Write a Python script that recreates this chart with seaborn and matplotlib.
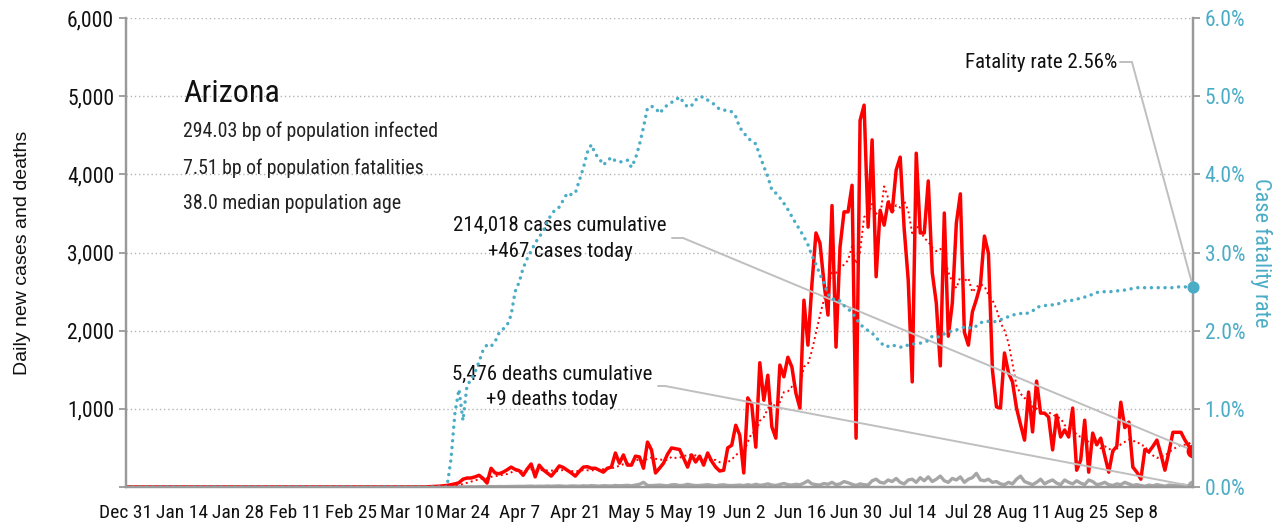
import numpy as np
import pandas as pd
import matplotlib
matplotlib.use("Agg")
import matplotlib.pyplot as plt
from matplotlib import font_manager as fm
from matplotlib.ticker import FuncFormatter
import matplotlib.dates as mdates
import seaborn as sns

# --- data (daily, Dec 31 2019 .. Sep 22 2020) ---
dates = pd.date_range("2019-12-31", "2020-09-22", freq="D")

cases = [0] * 75 + [
    3, 5, 8, 10, 15, 20, 30, 40,
    55, 100, 115, 115, 130, 150, 110, 50, 240, 180, 170, 190, 220, 255, 225, 210, 150,
    230, 295, 130, 280, 220, 180, 140, 200, 270, 250, 215, 180, 140, 200, 255, 260, 240, 240, 215, 190, 240, 255,
    435, 305, 410, 280, 280, 395, 385, 240, 575, 475, 180, 240, 305, 420, 500, 490, 480, 370, 255, 410,
    320, 395, 280, 435, 330, 255, 205, 215, 500, 535, 790, 665,
    180, 1140, 1050, 510, 1590, 1110, 1430, 770, 625, 1560, 1410, 1660, 1535, 1200, 1010, 2390, 1815,
    2600, 3250, 3120, 2610, 2200, 3600, 1790, 3070, 3520, 3520, 3860, 625,
    4690, 4885, 3325, 4440, 2690, 3540, 3350, 3645, 3520, 4055, 4220, 3300, 2650, 1345,
    4270, 3250, 3250, 3915, 2740, 2355, 1550, 3505, 1930, 2355, 3375, 3750, 1980, 1815, 2240, 2400, 2585,
    3210, 2990, 1495, 1025, 1010, 1715, 1460, 1345, 1010, 800, 600, 1215, 705, 1355, 945, 945, 895, 475,
    920, 640, 730, 640, 1010,
    215, 345, 855, 190, 690, 540, 625, 400, 190, 460, 520, 1085, 760, 830, 255, 190, 100, 480, 450, 520,
    600, 420, 215, 450, 700, 700, 700, 600, 520, 467,
]

deaths = [0] * 80 + [
    0, 1, 0, 2, 1, 2, 3, 2, 4, 5, 3, 6, 4, 7, 5, 6, 8, 7, 9, 8,
    10, 12, 8, 11, 9, 13, 10, 12, 15, 11, 9, 14, 13, 10, 16, 12, 18, 14, 11, 17, 15, 13,
    20, 16, 18, 22, 15, 25, 35, 60, 20, 18, 22, 25, 20, 15, 28, 30, 18, 22, 35, 25,
    18, 20, 24, 30, 22, 16, 25, 28, 20, 18, 22,
    25, 18, 30, 20, 35, 22, 28, 40, 25, 20, 32, 45, 30, 25, 35, 28, 50, 80, 40, 30,
    25, 45, 35, 60, 30, 40, 70, 55, 35, 20,
    40, 30, 25, 80, 100, 60, 50, 90, 70, 110, 60, 40, 90, 100, 60, 120, 80, 130, 70, 100,
    140, 80, 60, 110, 90, 130, 60, 100, 120, 175, 90,
    80, 100, 60, 70, 40, 30, 60, 40, 100, 140, 70, 50, 30, 60, 100, 40, 70, 90, 50, 30,
    90, 60, 40, 80, 50, 30, 90, 70, 30, 40, 60,
    30, 20, 40, 30, 60, 40, 20, 30, 20, 10, 25, 15, 30, 20, 10, 25, 20, 15, 30, 20, 15, 9,
]

fatality_pct = [0.0] * 80 + [
    0.00, 0.35, 0.95, 1.25, 0.85, 1.30, 1.37, 1.47, 1.60, 1.75, 1.82, 1.80, 1.86, 1.97, 2.02, 2.07, 2.20, 2.50, 2.62, 2.80,
    2.92, 3.02, 3.12, 3.20, 3.27, 3.40, 3.48, 3.55, 3.58, 3.67, 3.76, 3.74, 3.76, 3.92, 4.08, 4.28, 4.38, 4.26, 4.20, 4.12,
    4.17, 4.22, 4.17, 4.16, 4.16, 4.18, 4.09, 4.20, 4.38, 4.60,
    4.85, 4.87, 4.85, 4.78, 4.84, 4.89, 4.92, 4.95, 4.99, 4.92, 4.86, 4.88, 4.95, 4.99, 4.99, 4.95, 4.92, 4.88, 4.83, 4.82,
    4.82, 4.80, 4.74, 4.60, 4.53, 4.47, 4.42, 4.39, 4.24, 4.10,
    3.97, 3.80, 3.76, 3.70, 3.63, 3.55, 3.46, 3.37, 3.29, 3.20, 3.10, 2.96, 2.85, 2.72, 2.61, 2.47, 2.40, 2.41, 2.38, 2.32,
    2.28, 2.23, 2.16, 2.08, 2.04, 2.00, 1.97, 1.91, 1.86, 1.80,
    1.80, 1.82, 1.80, 1.79, 1.79, 1.82, 1.83, 1.83, 1.84, 1.86, 1.87, 1.93, 1.92, 1.92, 1.96, 1.98, 2.00, 2.01, 2.02, 2.05,
    2.04, 2.03, 2.06, 2.10, 2.12, 2.12, 2.11, 2.12, 2.14, 2.16,
    2.18, 2.20, 2.21, 2.22, 2.21, 2.23, 2.25, 2.30, 2.31, 2.32, 2.33, 2.33, 2.33, 2.36, 2.38, 2.38, 2.39, 2.40, 2.42, 2.43,
    2.44, 2.47, 2.49, 2.49, 2.50, 2.50, 2.50, 2.51, 2.51, 2.52,
    2.53, 2.54, 2.55, 2.55, 2.55, 2.55, 2.55, 2.55, 2.55, 2.55, 2.55, 2.55, 2.56, 2.56, 2.56, 2.56, 2.56,
]

state = "Arizona"
info_lines = ["294.03 bp of population infected",
              "7.51 bp of population fatalities",
              "38.0 median population age"]
cases_note = "214,018 cases cumulative\n+467 cases today"
deaths_note = "5,476 deaths cumulative\n+9 deaths today"
rate_note = "Fatality rate 2.56%"

df = pd.DataFrame({"date": dates, "cases": cases, "deaths": deaths,
                   "rate": np.array(fatality_pct) / 100.0})
df["cases_ma"] = df["cases"].rolling(7, min_periods=1).mean()

RED = "#ff0000"
TEAL = "#4bacc6"
GREY = "#a6a6a6"
SPINE = "#999999"
LEADER = "#bfbfbf"

sns.set_theme(style="white")

# pick the narrowest installed sans face (the original uses a condensed font)
fonts = {(f.name, f.stretch) for f in fm.fontManager.ttflist}
names = {n for n, _ in fonts}
condensed = [n for n, s in fonts if s in ("condensed", "semi-condensed", "extra-condensed", 600, 500)]
if "Roboto Condensed" in names:
    FAMILY, STRETCH, SCALE = "Roboto Condensed", "normal", 1.0
elif "Liberation Sans Narrow" in names:
    FAMILY, STRETCH, SCALE = "Liberation Sans Narrow", "normal", 1.0
elif "DejaVu Sans" in condensed:
    FAMILY, STRETCH, SCALE = "DejaVu Sans", "condensed", 0.92
else:
    FAMILY, STRETCH, SCALE = "Roboto", "normal", 0.88
plt.rcParams["font.family"] = [FAMILY, "DejaVu Sans"]
plt.rcParams["font.stretch"] = STRETCH
LABEL_FAMILY = ["Liberation Sans", "Arial", "DejaVu Sans"]

fig = plt.figure(figsize=(12.81, 5.26), dpi=100)
ax = fig.add_axes([0.0984, 0.0741, 0.8329, 0.8917])
ax2 = ax.twinx()

sns.lineplot(data=df, x="date", y="deaths", ax=ax, color=GREY, lw=2.4)
sns.lineplot(data=df, x="date", y="cases_ma", ax=ax, color=RED, lw=1.4, linestyle=":")
sns.lineplot(data=df, x="date", y="cases", ax=ax, color=RED, lw=2.5)
sns.lineplot(data=df, x="date", y="rate", ax=ax2, color=TEAL, lw=2.5,
             linestyle=(0, (0.01, 1.95)), dash_capstyle="round")

last = df.iloc[-1]
ax.scatter([last["date"]], [last["cases"]], s=80, color=RED, zorder=5)
ax.scatter([last["date"]], [last["deaths"]], s=60, color=GREY, zorder=5)
ax2.scatter([last["date"]], [last["rate"]], s=60, color=TEAL, zorder=5, clip_on=False)

ax.set_xlim(dates[0], dates[-1])
ax.set_ylim(0, 6000)
ax2.set_ylim(0, 0.06)
ax.set_yticks(range(0, 6001, 1000))
ax2.set_yticks(np.arange(0, 0.0601, 0.01))
ax.yaxis.set_major_formatter(FuncFormatter(lambda v, p: "" if v == 0 else f"{v:,.0f}"))
ax2.yaxis.set_major_formatter(FuncFormatter(lambda v, p: f"{v * 100:.1f}%"))

xt = pd.date_range("2019-12-31", "2020-09-08", freq="14D")
ax.set_xticks(xt)
ax.xaxis.set_major_formatter(FuncFormatter(
    lambda v, p: f"{mdates.num2date(v):%b} {mdates.num2date(v).day}"))

ax.grid(False)
ax2.grid(False)
ax.yaxis.grid(True, color="#b5b5b5", linestyle=(0, (1, 2)), lw=1)
ax.set_axisbelow(True)

for a in (ax, ax2):
    a.spines["top"].set_visible(False)
    for s in ("left", "right", "bottom"):
        a.spines[s].set_color(SPINE)
        a.spines[s].set_linewidth(1.6)

ax.tick_params(axis="x", length=6, width=1.3, color=SPINE, labelsize=14 * SCALE,
               labelcolor="#111111", pad=6)
ax.tick_params(axis="y", length=5, width=1.3, color=SPINE, labelsize=15.5 * SCALE,
               labelcolor="#111111", left=True)
ax2.tick_params(axis="y", length=5, width=1.3, color=SPINE, labelsize=15.5 * SCALE,
                labelcolor=TEAL, right=True)

ax.set_xlabel("")
ax.set_ylabel("Daily new cases and deaths", fontsize=14, color="#111111", labelpad=26,
              family=LABEL_FAMILY)
ax2.set_ylabel("Case fatality rate", fontsize=16 * SCALE, color=TEAL, rotation=270, labelpad=19)

# text block
ax.text(0.0534, 0.840, state, transform=ax.transAxes, fontsize=23 * SCALE, va="center", color="#111111")
for y, line in zip([0.759, 0.680, 0.6055], info_lines):
    ax.text(0.0534, y, line, transform=ax.transAxes, fontsize=14.3 * SCALE, va="center", color="#222222")

# annotations with leader lines
def leader(axis, text_xy, seg, target, label, ha):
    axis.text(text_xy[0], text_xy[1], label, transform=ax.transAxes, fontsize=15 * SCALE,
              ha=ha, va="center", color="#111111", linespacing=1.45)
    ax.plot([seg[0], seg[1]], [seg[2], seg[2]], transform=ax.transAxes,
            color=LEADER, lw=1.4, clip_on=False, zorder=4)
    axis.annotate("", xy=target, xycoords="data",
                  xytext=(seg[1], seg[2]), textcoords=ax.transAxes,
                  arrowprops=dict(arrowstyle="-", color=LEADER, lw=1.4,
                                  shrinkA=0, shrinkB=0), zorder=4)

leader(ax, (0.4068, 0.530), (0.5117, 0.522, 0.531),
       (last["date"], last["cases"]), cases_note, "center")
leader(ax, (0.3993, 0.213), (0.4986, 0.5052, 0.2154),
       (last["date"], last["deaths"]), deaths_note, "center")
leader(ax2, (0.9288, 0.906), (0.9316, 0.9428, 0.906),
       (last["date"], last["rate"]), rate_note, "right")

fig.savefig("out.png", dpi=100)
